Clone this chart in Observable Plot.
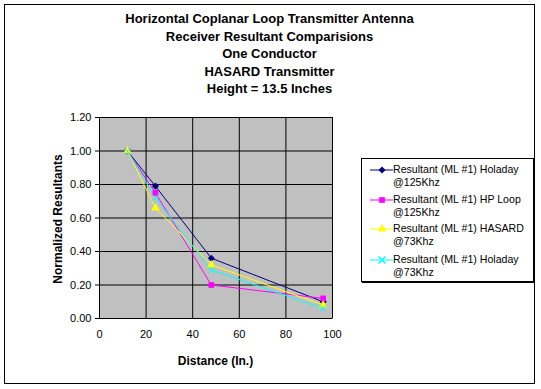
<!DOCTYPE html>
<html><head><meta charset="utf-8">
<script src="https://cdn.jsdelivr.net/npm/d3@7"></script>
<script src="https://cdn.jsdelivr.net/npm/@observablehq/plot@0.6"></script>
<style>
body{margin:0;background:#fff;}
#wrap{position:relative;width:541px;height:389px;font-family:"Liberation Sans",Arial,sans-serif;overflow:hidden;}
#wrap svg.plot{position:absolute;left:0;top:0;}
#border{position:absolute;left:4px;top:4px;width:529px;height:378px;border:1px solid #000;pointer-events:none;}
#title{position:absolute;left:4px;width:531px;top:10px;text-align:center;font-weight:bold;font-size:13px;line-height:17.5px;color:#000;}
#xlabel{position:absolute;left:99px;width:233px;top:354px;text-align:center;font-weight:bold;font-size:12px;}
#ylabel{position:absolute;left:57.5px;top:218.5px;transform:translate(-50%,-50%) rotate(-90deg);white-space:nowrap;font-weight:bold;font-size:12px;}
#legend{position:absolute;left:361px;top:158px;width:171px;height:122px;border:1px solid #000;background:#fff;box-shadow:1px 1px 0 #000;}
.entry{position:absolute;left:8px;width:160px;height:28px;font-size:10.6px;line-height:13px;}
.entry svg{position:absolute;left:0;top:0;max-width:none !important;}
.entry span{position:absolute;left:23px;top:0;white-space:nowrap;}
</style>
</head><body>
<div id="wrap">
  <div id="title"></div>
  <div id="xlabel"></div>
  <div id="ylabel"></div>
  <div id="legend"></div>
  <div id="border"></div>
</div>
<script>
const titleLines = ["Horizontal Coplanar Loop Transmitter Antenna","Receiver Resultant Comparisions","One Conductor","HASARD Transmitter","Height = 13.5 Inches"];
const xLabel = "Distance (In.)";
const yLabel = "Normalized Resultants";
const distances = [12, 24, 48, 96];
const seriesNames = ["Resultant (ML #1) Holaday @125Khz","Resultant (ML #1) HP Loop @125Khz","Resultant (ML #1) HASARD @73Khz","Resultant (ML #1) Holaday @73Khz"];
const legendLine1 = ["Resultant (ML #1) Holaday","Resultant (ML #1) HP Loop","Resultant (ML #1) HASARD","Resultant (ML #1) Holaday"];
const legendLine2 = ["@125Khz","@125Khz","@73Khz","@73Khz"];
const holaday125 = [1.00, 0.79, 0.36, 0.10];
const hpLoop125 = [1.00, 0.75, 0.20, 0.12];
const hasard73 = [1.00, 0.66, 0.32, 0.08];
const holaday73 = [1.00, 0.72, 0.29, 0.06];
const xTicks = [0, 20, 40, 60, 80, 100];
const yTicks = [0, 0.2, 0.4, 0.6, 0.8, 1.0, 1.2];
const colors = ["#000080", "#FF00FF", "#FFFF00", "#00FFFF"];
const symbols = ["diamond2", "square", "triangle", "times"];

const allSeries = [holaday125, hpLoop125, hasard73, holaday73];
const data = [];
allSeries.forEach((vals, si) => vals.forEach((v, i) => data.push({series: seriesNames[si], x: distances[i], y: v})));

document.getElementById("title").innerHTML = titleLines.join("<br>");
document.getElementById("xlabel").textContent = xLabel;
document.getElementById("ylabel").textContent = yLabel;

const marks = [
  Plot.frame({fill: "#C0C0C0", stroke: "#808080"}),
  Plot.gridX(xTicks.slice(1), {stroke: "#000", strokeOpacity: 1, strokeWidth: 1}),
  Plot.gridY(yTicks.slice(1), {stroke: "#000", strokeOpacity: 1, strokeWidth: 1}),
  Plot.axisX(xTicks, {tickSize: 0, tickPadding: 12, fontSize: 11, label: null, tickFormat: d => String(d)}),
  Plot.axisY(yTicks, {tickSize: 4, tickPadding: 4, fontSize: 11, label: null, tickFormat: d => d.toFixed(2)}),
  Plot.ruleX([0], {stroke: "#000"}),
  Plot.ruleY([0], {stroke: "#000"})
];
seriesNames.forEach((name, si) => {
  const d = data.filter(r => r.series === name);
  marks.push(Plot.line(d, {x: "x", y: "y", stroke: colors[si], strokeWidth: 1}));
});
seriesNames.forEach((name, si) => {
  const d = data.filter(r => r.series === name);
  const isStroke = symbols[si] === "times";
  marks.push(Plot.dot(d, {x: "x", y: "y", symbol: () => symbols[si], r: 3.2,
    fill: isStroke ? "none" : colors[si], stroke: isStroke ? colors[si] : "none", strokeWidth: 1}));
});

const chart = Plot.plot({
  width: 541, height: 389,
  marginLeft: 99, marginRight: 209, marginTop: 117, marginBottom: 71,
  style: {fontFamily: "'Liberation Sans', Arial, sans-serif", fontSize: "11px", color: "#000", background: "transparent"},
  x: {domain: [0, 100]},
  y: {domain: [0, 1.2]},
  symbol: {type: "identity"},
  marks
});
chart.classList.add("plot");
document.getElementById("wrap").prepend(chart);

// Legend
const legend = document.getElementById("legend");
const entryTops = [4, 34, 63, 94];
seriesNames.forEach((name, si) => {
  const e = document.createElement("div");
  e.className = "entry";
  e.style.top = entryTops[si] + "px";
  const isStroke = symbols[si] === "times";
  const sym = Plot.dot([{x: 0, y: 0}], {x: "x", y: "y", symbol: () => symbols[si], r: 3.2,
    fill: isStroke ? "none" : colors[si], stroke: isStroke ? colors[si] : "none"});
  const s = Plot.plot({width: 23, height: 13, margin: 0, x: {domain: [-11, 11], axis: null}, y: {domain: [-1, 1], axis: null},
    symbol: {type: "identity"}, style: {background: "transparent", maxWidth: "none"},
    marks: [Plot.ruleY([0], {x1: -11, x2: 11, stroke: colors[si]}), sym]});
  e.appendChild(s);
  const t = document.createElement("span");
  t.innerHTML = legendLine1[si] + "<br>" + legendLine2[si];
  e.appendChild(t);
  legend.appendChild(e);
});
</script>
</body></html>
